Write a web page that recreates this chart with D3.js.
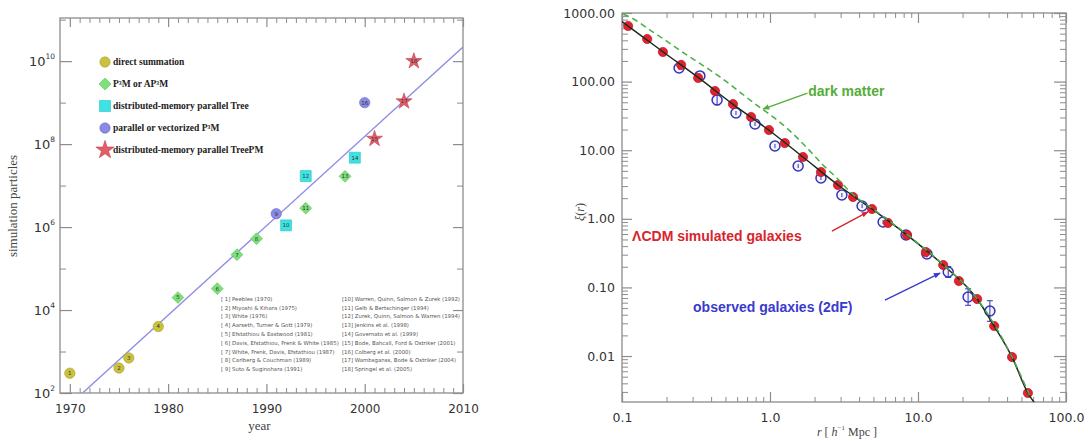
<!DOCTYPE html>
<html>
<head>
<meta charset="utf-8">
<script src="https://cdn.jsdelivr.net/npm/d3@7"></script>
<style>
body { margin: 0; background: #fff; }
svg { display: block; }
</style>
</head>
<body>
<div id="chart"></div>
<script>
// ---- left panel: particles used in cosmological simulations ----
var simYear = [1970, 1975, 1976, 1979, 1981, 1985, 1987, 1989, 1991, 1992, 1994, 1994, 1998, 1999, 2001, 2000, 2004, 2005];
var simParticles = [300, 400, 700, 4000, 20000, 32768, 216000, 524288, 2097152, 1100000, 2850000, 17000000,
                    16700000, 47000000, 134000000, 1000000000, 1070000000, 10000000000];
var simType = ["direct", "direct", "direct", "direct", "p3m", "p3m", "p3m", "p3m", "ppm", "tree", "p3m", "tree",
               "p3m", "tree", "treepm", "ppm", "treepm", "treepm"];
var legendTypes = ["direct", "p3m", "tree", "ppm", "treepm"];
var legendLabels = ["direct summation", "P³M or AP³M", "distributed-memory parallel Tree",
                    "parallel or vectorized P³M", "distributed-memory parallel TreePM"];
var refs = ["[ 1] Peebles (1970)", "[ 2] Miyoshi & Kihara (1975)", "[ 3] White (1976)",
            "[ 4] Aarseth, Turner & Gott (1979)", "[ 5] Efstathiou & Eastwood (1981)",
            "[ 6] Davis, Efstathiou, Frenk & White (1985)", "[ 7] White, Frenk, Davis, Efstathiou (1987)",
            "[ 8] Carlberg & Couchman (1989)", "[ 9] Suto & Suginohara (1991)",
            "[10] Warren, Quinn, Salmon & Zurek (1992)", "[11] Gelb & Bertschinger (1994)",
            "[12] Zurek, Quinn, Salmon & Warren (1994)", "[13] Jenkins et al. (1998)",
            "[14] Governato et al. (1999)", "[15] Bode, Bahcall, Ford & Ostriker (2001)",
            "[16] Colberg et al. (2000)", "[17] Wambsganss, Bode & Ostriker (2004)", "[18] Springel et al. (2005)"];
var trendYear = [1971.3, 2010];
var trendParticles = [1e2, 2.2e10];
var yearTicks = [1970, 1980, 1990, 2000, 2010];
var particleExp = [2, 4, 6, 8, 10];

// ---- right panel: correlation function ----
var galR  = [0.110, 0.148, 0.189, 0.251, 0.327, 0.425, 0.562, 0.745, 0.984, 1.26, 1.67, 2.21,
             2.88, 3.64, 4.89, 6.27, 8.43, 11.3, 14.8, 18.9, 25.1, 32.7, 43.2, 55.3];
var galXi = [646, 418, 270, 175, 113, 73, 47, 30.5, 19.7, 12.7, 7.96, 4.81,
             3.11, 2.08, 1.39, 0.87, 0.58, 0.328, 0.212, 0.124, 0.0677, 0.0274, 0.00966, 0.00289];
var obsR  = [0.243, 0.336, 0.439, 0.589, 0.792, 1.08, 1.55, 2.21, 3.06, 4.19, 5.81, 8.3, 11.5, 16.0, 21.8, 30.6];
var obsXi = [158, 121, 54, 34.9, 24.1, 11.5, 5.89, 3.94, 2.22, 1.54, 0.90, 0.58, 0.307, 0.168, 0.0724, 0.0453];
var obsErr = [0.03, 0.03, 0.07, 0.03, 0.03, 0.03, 0.03, 0.03, 0.03, 0.03, 0.03, 0.04, 0.05, 0.08, 0.12, 0.15]; // dex
var fitR  = [0.1, 0.11, 0.19, 0.33, 0.56, 0.98, 1.67, 2.88, 4.89, 8.43, 14.8, 25.1, 32.7, 43.2, 55.3, 61];
var fitXi = [750, 646, 270, 113, 47, 19.7, 7.96, 3.11, 1.39, 0.58, 0.212, 0.0677, 0.0274, 0.00966, 0.00289, 0.0021];
var dmR  = [0.102, 0.113, 0.162, 0.275, 0.459, 0.767, 1.30, 1.78, 2.28, 2.84, 3.6, 4.89, 8.43, 14.8, 25.1, 43.2, 58];
var dmXi = [960, 875, 528, 244, 117, 50, 21, 10.8, 6.1, 3.9, 2.3, 1.42, 0.59, 0.215, 0.068, 0.0097, 0.0024];
var rTicks = [0.1, 1, 10, 100];
var rTickLabels = ["0.1", "1.0", "10.0", "100.0"];
var xiTicks = [1000, 100, 10, 1, 0.1, 0.01];
var xiTickLabels = ["1000.00", "100.00", "10.00", "1.00", "0.10", "0.01"];

var colors = { direct: "#c9c23e", p3m: "#7ee07a", tree: "#3fe2e2", ppm: "#8a8ae4", treepm: "#e45c68" };
var strokes = { direct: "#a9a22a", p3m: "#5cc058", tree: "#22c4c4", ppm: "#6a6ac8", treepm: "#c04050" };

var axisColor = "#8c8c8c";
var sans = "'DejaVu Sans', 'Liberation Sans', sans-serif";
var serif = "'Liberation Serif', 'DejaVu Serif', serif";

var svg = d3.select("#chart").append("svg")
    .attr("width", 1088)
    .attr("height", 441);

function symbolPath(type, s) {
    var sym = { direct: d3.symbolCircle, p3m: d3.symbolSquare, tree: d3.symbolSquare,
                ppm: d3.symbolCircle, treepm: d3.symbolStar }[type];
    var size = { direct: 85, p3m: 70, tree: 120, ppm: 85, treepm: 80 }[type];
    return d3.symbol().type(sym).size(size * (s || 1))();
}

// =============== LEFT PANEL ===============
var xL = d3.scaleLinear().domain([1969, 2010]).range([60, 463]);
var yL = d3.scaleLog().domain([1e2, Math.pow(10, 11.04)]).range([393, 18]);
var left = svg.append("g");

left.append("rect")
    .attr("x", xL.range()[0]).attr("y", yL.range()[1])
    .attr("width", xL.range()[1] - xL.range()[0])
    .attr("height", yL.range()[0] - yL.range()[1])
    .attr("fill", "none").attr("stroke", axisColor).attr("stroke-width", 1.3);

var minorYears = d3.range(1970, 2010).filter(function(y) { return y % 10 != 0; });

var bx = left.append("g").attr("transform", "translate(0," + yL.range()[0] + ")")
    .call(d3.axisBottom(xL).tickValues(yearTicks).tickSize(-9).tickPadding(11).tickFormat(d3.format("d")));
bx.select(".domain").remove();
bx.selectAll("line").attr("stroke", axisColor).attr("stroke-width", 1.2);
bx.selectAll("text").attr("font-family", sans).attr("font-size", 12).attr("fill", "#333");

var bxm = left.append("g").attr("transform", "translate(0," + yL.range()[0] + ")")
    .call(d3.axisBottom(xL).tickValues(minorYears).tickSize(-5).tickFormat(""));
bxm.select(".domain").remove();
bxm.selectAll("line").attr("stroke", axisColor);

var tx = left.append("g").attr("transform", "translate(0," + yL.range()[1] + ")")
    .call(d3.axisTop(xL).tickValues(yearTicks).tickSize(-9).tickFormat(""));
tx.select(".domain").remove();
tx.selectAll("line").attr("stroke", axisColor).attr("stroke-width", 1.2);
var txm = left.append("g").attr("transform", "translate(0," + yL.range()[1] + ")")
    .call(d3.axisTop(xL).tickValues(minorYears).tickSize(-5).tickFormat(""));
txm.select(".domain").remove();
txm.selectAll("line").attr("stroke", axisColor);

var majorP = particleExp.map(function(e) { return Math.pow(10, e); });
var minorP = [3, 5, 7, 9, 11].map(function(e) { return Math.pow(10, e); }).filter(function(v) { return v < yL.domain()[1]; });

var ly = left.append("g").attr("transform", "translate(" + xL.range()[0] + ",0)")
    .call(d3.axisLeft(yL).tickValues(majorP).tickSize(-12).tickPadding(5).tickFormat(""));
ly.select(".domain").remove();
ly.selectAll("line").attr("stroke", axisColor).attr("stroke-width", 1.2);
ly.selectAll(".tick text").each(function(d) {
    var t = d3.select(this).attr("font-family", sans).attr("fill", "#333").attr("dy", "0.4em");
    t.append("tspan").attr("font-size", 13).text("10");
    t.append("tspan").attr("font-size", 7.5).attr("dy", "-0.9em").text(Math.round(Math.log10(d)));
});
var lym = left.append("g").attr("transform", "translate(" + xL.range()[0] + ",0)")
    .call(d3.axisLeft(yL).tickValues(minorP).tickSize(-6).tickFormat(""));
lym.select(".domain").remove();
lym.selectAll("line").attr("stroke", axisColor);

var ry = left.append("g").attr("transform", "translate(" + xL.range()[1] + ",0)")
    .call(d3.axisRight(yL).tickValues(majorP).tickSize(-10).tickFormat(""));
ry.select(".domain").remove();
ry.selectAll("line").attr("stroke", axisColor).attr("stroke-width", 1.2);
var rym = left.append("g").attr("transform", "translate(" + xL.range()[1] + ",0)")
    .call(d3.axisRight(yL).tickValues(minorP).tickSize(-6).tickFormat(""));
rym.select(".domain").remove();
rym.selectAll("line").attr("stroke", axisColor);

left.append("text")
    .attr("x", (xL.range()[0] + xL.range()[1]) / 2 - 2).attr("y", 430)
    .attr("text-anchor", "middle").attr("font-family", serif).attr("font-size", 13).attr("fill", "#444")
    .text("year");
left.append("text")
    .attr("transform", "translate(17,206) rotate(-90)")
    .attr("text-anchor", "middle").attr("font-family", serif).attr("font-size", 13).attr("fill", "#444")
    .text("simulation particles");

// clip for the trend line
svg.append("defs").append("clipPath").attr("id", "clipL").append("rect")
    .attr("x", 60).attr("y", 18).attr("width", 403).attr("height", 375);

left.append("line")
    .attr("clip-path", "url(#clipL)")
    .attr("x1", xL(trendYear[0])).attr("y1", yL(trendParticles[0]))
    .attr("x2", xL(trendYear[1])).attr("y2", yL(trendParticles[1]))
    .attr("stroke", "#8e8ee6").attr("stroke-width", 1.4);

var pts = left.selectAll("g.pt")
    .data(simYear.map(function(y, i) { return { year: y, n: simParticles[i], type: simType[i], id: i + 1 }; }))
    .enter().append("g")
    .attr("class", "pt")
    .attr("transform", function(d) { return "translate(" + xL(d.year) + "," + yL(d.n) + ")"; });
pts.append("path")
    .attr("d", function(d) { return symbolPath(d.type); })
    .attr("transform", function(d) { return d.type == "p3m" ? "rotate(45)" : null; })
    .attr("fill", function(d) { return colors[d.type]; })
    .attr("stroke", function(d) { return strokes[d.type]; })
    .attr("stroke-width", 0.6);
pts.append("text")
    .attr("text-anchor", "middle").attr("dy", "0.35em")
    .attr("font-family", sans).attr("font-size", 5.5).attr("fill", "#333")
    .text(function(d) { return d.id; });

// legend
var leg = left.selectAll("g.leg")
    .data(legendTypes)
    .enter().append("g")
    .attr("class", "leg")
    .attr("transform", function(d, i) { return "translate(105," + (62 + i * 22) + ")"; });
leg.append("path")
    .attr("d", function(d) { return symbolPath(d, d == "treepm" ? 1.3 : 1); })
    .attr("transform", function(d) { return d == "p3m" ? "rotate(45)" : null; })
    .attr("fill", function(d) { return colors[d]; })
    .attr("stroke", function(d) { return strokes[d]; })
    .attr("stroke-width", 0.6);
leg.append("text")
    .attr("x", 8).attr("dy", "0.35em")
    .attr("font-family", serif).attr("font-weight", "bold").attr("font-size", 9.5).attr("fill", "#222")
    .text(function(d, i) { return legendLabels[i]; });

// reference list
left.selectAll("text.ref")
    .data(refs)
    .enter().append("text")
    .attr("class", "ref")
    .attr("x", function(d, i) { return i < 9 ? 221 : 342; })
    .attr("y", function(d, i) { return 299 + (i % 9) * 8.8; })
    .attr("dy", "0.35em")
    .attr("font-family", sans).attr("font-size", 5.4).attr("fill", "#555")
    .text(function(d) { return d; });

// =============== RIGHT PANEL ===============
var xR = d3.scaleLog().domain([0.1, 100]).range([622, 1066]);
var yR = d3.scaleLog().domain([Math.pow(10, -2.67), 1000]).range([402, 13]);
var right = svg.append("g");

right.append("rect")
    .attr("x", xR.range()[0]).attr("y", yR.range()[1])
    .attr("width", xR.range()[1] - xR.range()[0])
    .attr("height", yR.range()[0] - yR.range()[1])
    .attr("fill", "none").attr("stroke", axisColor).attr("stroke-width", 1.3);

var minorR = [];
[0.1, 1, 10].forEach(function(b) { for (var k = 2; k <= 9; k++) minorR.push(b * k); });
var minorXi = [];
[0.001, 0.01, 0.1, 1, 10, 100].forEach(function(b) {
    for (var k = 2; k <= 9; k++) if (b * k > yR.domain()[0] && b * k < 1000) minorXi.push(b * k);
});

var rb = right.append("g").attr("transform", "translate(0," + yR.range()[0] + ")")
    .call(d3.axisBottom(xR).tickValues(rTicks).tickSize(-10).tickPadding(11)
        .tickFormat(function(d, i) { return rTickLabels[i]; }));
rb.select(".domain").remove();
rb.selectAll("line").attr("stroke", axisColor).attr("stroke-width", 1.2);
rb.selectAll("text").attr("font-family", sans).attr("font-size", 12.5).attr("fill", "#333");
var rbm = right.append("g").attr("transform", "translate(0," + yR.range()[0] + ")")
    .call(d3.axisBottom(xR).tickValues(minorR).tickSize(-5).tickFormat(""));
rbm.select(".domain").remove();
rbm.selectAll("line").attr("stroke", axisColor);

var rt = right.append("g").attr("transform", "translate(0," + yR.range()[1] + ")")
    .call(d3.axisTop(xR).tickValues(rTicks).tickSize(-10).tickFormat(""));
rt.select(".domain").remove();
rt.selectAll("line").attr("stroke", axisColor).attr("stroke-width", 1.2);
var rtm = right.append("g").attr("transform", "translate(0," + yR.range()[1] + ")")
    .call(d3.axisTop(xR).tickValues(minorR).tickSize(-5).tickFormat(""));
rtm.select(".domain").remove();
rtm.selectAll("line").attr("stroke", axisColor);

var rl = right.append("g").attr("transform", "translate(" + xR.range()[0] + ",0)")
    .call(d3.axisLeft(yR).tickValues(xiTicks).tickSize(-10).tickPadding(7)
        .tickFormat(function(d, i) { return xiTickLabels[i]; }));
rl.select(".domain").remove();
rl.selectAll("line").attr("stroke", axisColor).attr("stroke-width", 1.2);
rl.selectAll("text").attr("font-family", sans).attr("font-size", 12.5).attr("fill", "#333");
var rlm = right.append("g").attr("transform", "translate(" + xR.range()[0] + ",0)")
    .call(d3.axisLeft(yR).tickValues(minorXi).tickSize(-6).tickFormat(""));
rlm.select(".domain").remove();
rlm.selectAll("line").attr("stroke", axisColor);

var rr = right.append("g").attr("transform", "translate(" + xR.range()[1] + ",0)")
    .call(d3.axisRight(yR).tickValues(xiTicks).tickSize(-12).tickFormat(""));
rr.select(".domain").remove();
rr.selectAll("line").attr("stroke", axisColor).attr("stroke-width", 1.2);
var rrm = right.append("g").attr("transform", "translate(" + xR.range()[1] + ",0)")
    .call(d3.axisRight(yR).tickValues(minorXi).tickSize(-6).tickFormat(""));
rrm.select(".domain").remove();
rrm.selectAll("line").attr("stroke", axisColor);

// axis titles
var xt = right.append("text")
    .attr("x", 847).attr("y", 436)
    .attr("text-anchor", "middle").attr("font-family", serif).attr("font-size", 12).attr("fill", "#444");
xt.append("tspan").attr("font-style", "italic").text("r");
xt.append("tspan").text(" [ ");
xt.append("tspan").attr("font-style", "italic").text("h");
xt.append("tspan").attr("font-size", 7).attr("dy", "-0.9em").text("−1");
xt.append("tspan").attr("dy", "0.55em").text(" Mpc ]");

var yt = right.append("text")
    .attr("transform", "translate(584,212) rotate(-90)")
    .attr("text-anchor", "middle").attr("font-family", serif).attr("font-size", 12).attr("fill", "#444");
yt.append("tspan").attr("font-style", "italic").text("ξ");
yt.append("tspan").text("(");
yt.append("tspan").attr("font-style", "italic").text("r");
yt.append("tspan").text(")");

svg.append("defs").append("clipPath").attr("id", "clipR").append("rect")
    .attr("x", 622).attr("y", 13).attr("width", 444).attr("height", 389);

var lineR = d3.line()
    .x(function(d) { return xR(d[0]); })
    .y(function(d) { return yR(d[1]); })
    .curve(d3.curveMonotoneX);

// observed galaxies (2dF)
var obs = obsR.map(function(r, i) { return { r: r, xi: obsXi[i], e: obsErr[i] }; });
var og = right.selectAll("g.obs").data(obs).enter().append("g").attr("class", "obs");
og.append("circle")
    .attr("cx", function(d) { return xR(d.r); })
    .attr("cy", function(d) { return yR(d.xi); })
    .attr("r", 5)
    .attr("fill", "#ececfb").attr("fill-opacity", 0.6)
    .attr("stroke", "#3434b8").attr("stroke-width", 1.5);
og.append("line")
    .attr("x1", function(d) { return xR(d.r); })
    .attr("x2", function(d) { return xR(d.r); })
    .attr("y1", function(d) { return yR(d.xi * Math.pow(10, d.e)); })
    .attr("y2", function(d) { return yR(d.xi / Math.pow(10, d.e)); })
    .attr("stroke", "#3434b8").attr("stroke-width", 1);
og.filter(function(d) { return d.e > 0.05; }).each(function(d) {
    var g = d3.select(this);
    [d.xi * Math.pow(10, d.e), d.xi / Math.pow(10, d.e)].forEach(function(v) {
        g.append("line")
            .attr("x1", xR(d.r) - 3).attr("x2", xR(d.r) + 3)
            .attr("y1", yR(v)).attr("y2", yR(v))
            .attr("stroke", "#3434b8").attr("stroke-width", 1);
    });
});

// simulated galaxies
right.selectAll("circle.gal")
    .data(galR.map(function(r, i) { return [r, galXi[i]]; }))
    .enter().append("circle")
    .attr("class", "gal")
    .attr("cx", function(d) { return xR(d[0]); })
    .attr("cy", function(d) { return yR(d[1]); })
    .attr("r", 4.6)
    .attr("fill", "#e2232f").attr("stroke", "#b81420").attr("stroke-width", 0.7);

right.append("path")
    .datum(fitR.map(function(r, i) { return [r, fitXi[i]]; }))
    .attr("clip-path", "url(#clipR)")
    .attr("d", lineR)
    .attr("fill", "none").attr("stroke", "#1e2a1e").attr("stroke-width", 1.5);

right.append("path")
    .datum(dmR.map(function(r, i) { return [r, dmXi[i]]; }))
    .attr("clip-path", "url(#clipR)")
    .attr("d", lineR)
    .attr("fill", "none").attr("stroke", "#4aae48").attr("stroke-width", 1.5)
    .attr("stroke-dasharray", "6,4");

// annotations (positions in data coordinates)
var notes = [
    { text: "dark matter", color: "#55ad3a", tx: 1.81, ty: 73, ax: 1.79, ay: 68, bx: 0.897, by: 39.8 },
    { text: "ΛCDM simulated galaxies", color: "#d8242e", tx: 0.117, ty: 0.561, ax: 2.62, ay: 0.664, bx: 4.59, by: 1.26 },
    { text: "observed galaxies (2dF)", color: "#3a3acc", tx: 0.302, ty: 0.0518, ax: 5.98, ay: 0.0655, bx: 14.1, by: 0.162 }
];
var defs = svg.append("defs");
notes.forEach(function(n, i) {
    defs.append("marker")
        .attr("id", "arr" + i)
        .attr("viewBox", "0 0 10 10").attr("refX", 9).attr("refY", 5)
        .attr("markerWidth", 7).attr("markerHeight", 7)
        .attr("markerUnits", "userSpaceOnUse")
        .attr("orient", "auto")
        .append("path").attr("d", "M0,1 L10,5 L0,9 Z").attr("fill", n.color);
    right.append("line")
        .attr("x1", xR(n.ax)).attr("y1", yR(n.ay))
        .attr("x2", xR(n.bx)).attr("y2", yR(n.by))
        .attr("stroke", n.color).attr("stroke-width", 1.4)
        .attr("marker-end", "url(#arr" + i + ")");
    right.append("text")
        .attr("x", xR(n.tx)).attr("y", yR(n.ty))
        .attr("dy", "0.35em")
        .attr("font-family", "'Liberation Sans', Arial, sans-serif").attr("font-weight", "bold")
        .attr("font-size", 14).attr("fill", n.color)
        .text(n.text);
});
</script>
</body>
</html>
